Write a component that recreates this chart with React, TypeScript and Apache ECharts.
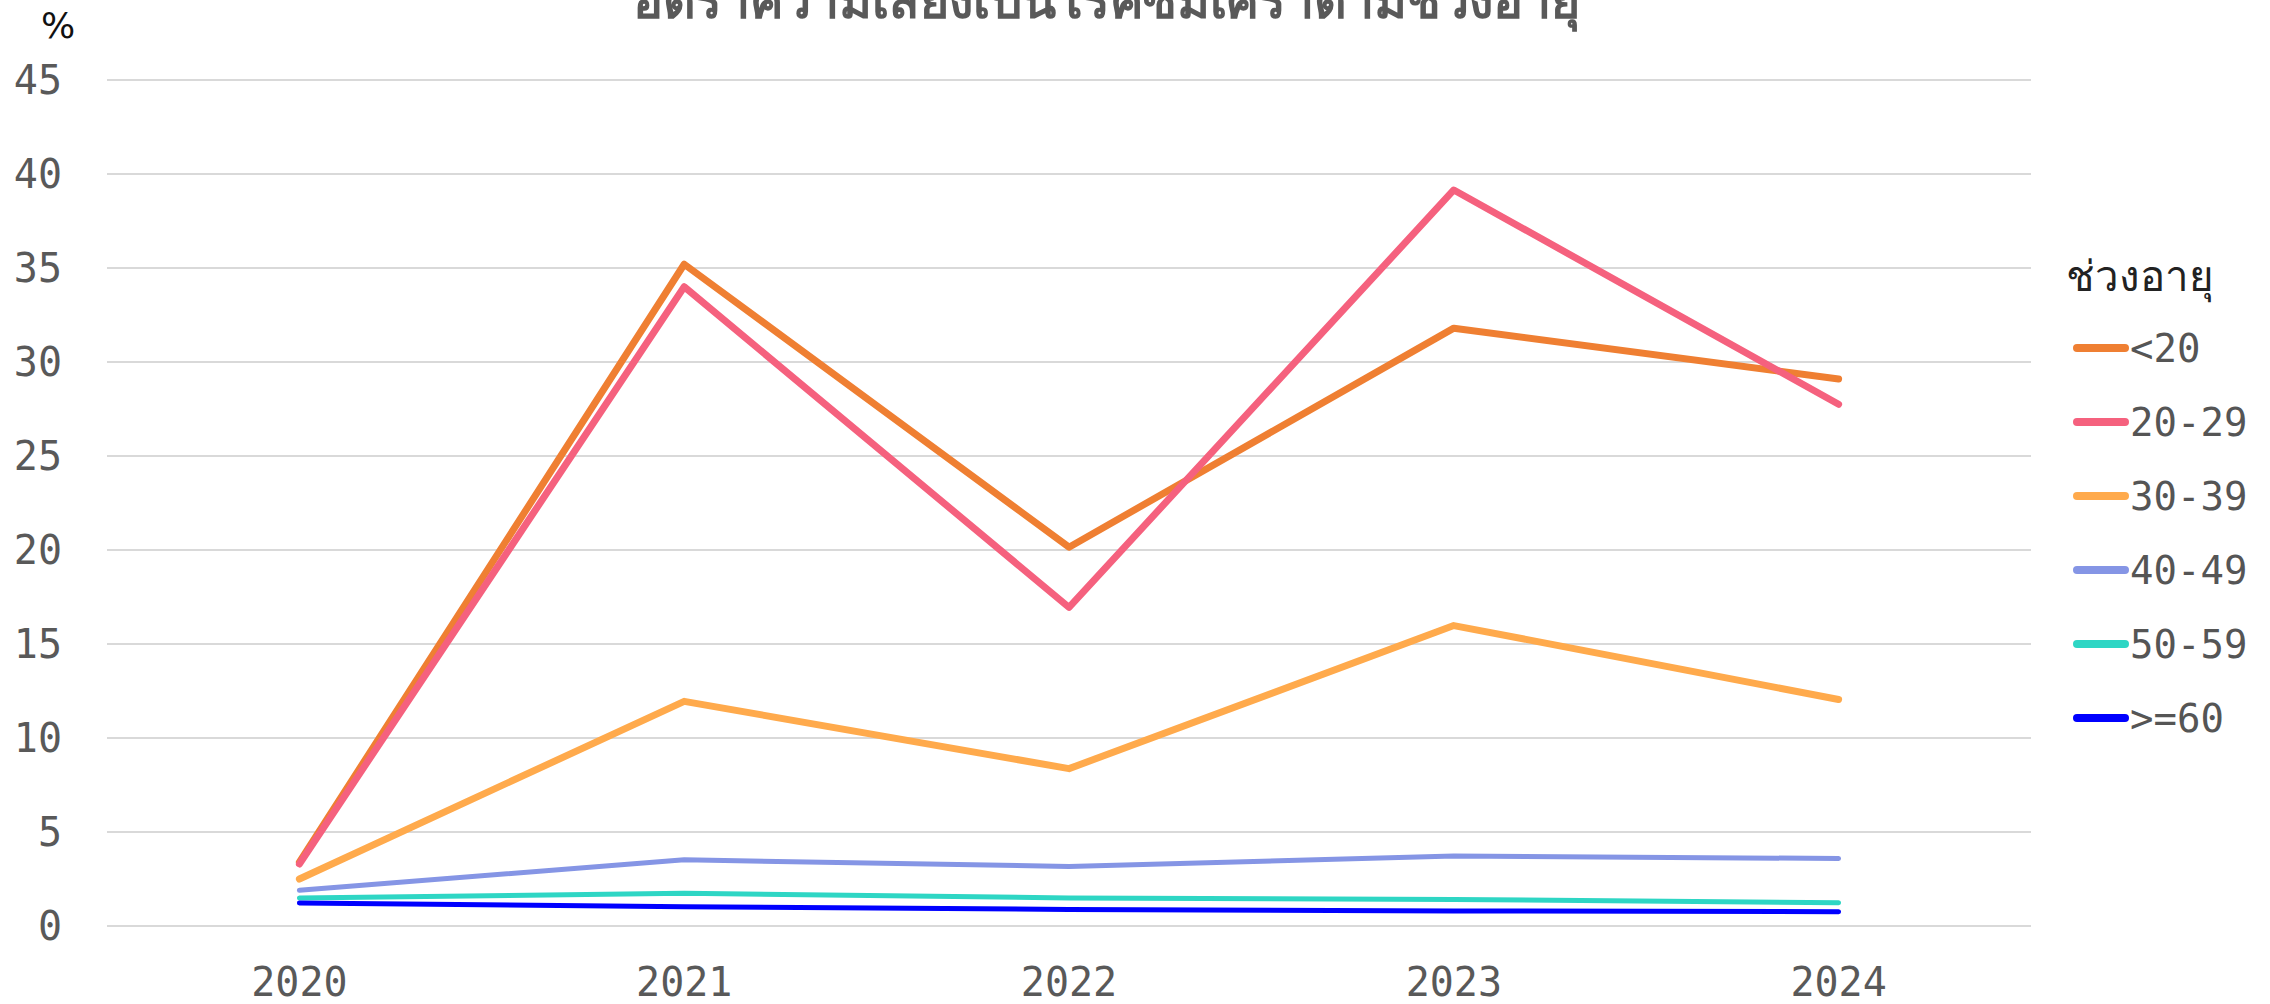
import React, { useEffect, useRef } from "react";
import * as echarts from "echarts";

const years = ["2020", "2021", "2022", "2023", "2024"];
const seriesNames = ["<20", "20-29", "30-39", "40-49", "50-59", ">=60"];
const under20 = [3.4, 35.2, 20.15, 31.8, 29.1];
const age20to29 = [3.3, 34.0, 16.95, 39.15, 27.75];
const age30to39 = [2.5, 11.95, 8.37, 15.98, 12.05];
const age40to49 = [1.9, 3.52, 3.17, 3.72, 3.59];
const age50to59 = [1.49, 1.74, 1.49, 1.41, 1.24];
const age60plus = [1.22, 1.03, 0.88, 0.8, 0.76];
const yTicks = [0, 5, 10, 15, 20, 25, 30, 35, 40, 45];

const seriesData = [under20, age20to29, age30to39, age40to49, age50to59, age60plus];
const colors = ["#EF7F32", "#F5617E", "#FFAA4C", "#8595E5", "#2ED6C4", "#0000FF"];
const widths = [7, 7, 7, 5, 5, 5];

const TITLE = "อัตราความเสี่ยงเป็นโรคซึมเศร้าตามช่วงอายุ";
const LEGEND_TITLE = "ช่วงอายุ";
const NUM_FONT = "'DejaVu Sans Mono', monospace";
const PILL = "path://M4,0 L52,0 A4,4 0 0 1 52,8 L4,8 A4,4 0 0 1 4,0 Z";

export default function App() {
  const ref = useRef<HTMLDivElement>(null);
  useEffect(() => {
    if (!ref.current) return;
    const chart = echarts.init(ref.current, undefined, { renderer: "svg" });
    chart.setOption({
      animation: false,
      backgroundColor: "#ffffff",
      grid: { left: 107, right: 239, top: 80, bottom: 78, containLabel: false },
      graphic: [
        {
          type: "text",
          x: 1106,
          y: -24,
          style: {
            text: TITLE,
            fontSize: 50,
            fontWeight: 900,
            fill: "#595959",
            align: "center",
            verticalAlign: "top",
            fontFamily: "sans-serif",
          },
        },
        {
          type: "text",
          x: 58,
          y: 25,
          style: {
            text: "%",
            fontSize: 36,
            fill: "#111111",
            align: "center",
            verticalAlign: "middle",
            fontFamily: "'DejaVu Sans', sans-serif",
          },
        },
        {
          type: "text",
          x: 2066,
          y: 276,
          style: {
            text: LEGEND_TITLE,
            fontSize: 42,
            fill: "#222222",
            align: "left",
            verticalAlign: "middle",
            fontFamily: "sans-serif",
          },
        },
      ],
      legend: {
        orient: "vertical",
        left: 2068,
        top: 323,
        itemWidth: 56,
        itemHeight: 8,
        itemGap: 34,
        icon: PILL,
        data: seriesNames,
        textStyle: {
          fontSize: 39,
          lineHeight: 40,
          color: "#555555",
          fontFamily: NUM_FONT,
          padding: [0, 0, 0, -4],
        },
      },
      xAxis: {
        type: "category",
        data: years,
        boundaryGap: true,
        axisLine: { show: false },
        axisTick: { show: false },
        axisLabel: {
          fontSize: 40,
          color: "#595959",
          fontFamily: NUM_FONT,
          margin: 36,
        },
      },
      yAxis: {
        type: "value",
        min: 0,
        max: 45,
        interval: 5,
        axisLine: { show: false },
        axisTick: { show: false },
        axisLabel: {
          fontSize: 40,
          color: "#595959",
          fontFamily: NUM_FONT,
          margin: 45,
          formatter: (v: number) => (yTicks.includes(v) ? String(v) : ""),
        },
        splitLine: { lineStyle: { color: "#d9d9d9", width: 2 } },
      },
      series: seriesNames.map((name, i) => ({
        name,
        type: "line",
        data: seriesData[i],
        symbol: "none",
        showSymbol: false,
        color: colors[i],
        itemStyle: { color: colors[i] },
        lineStyle: { color: colors[i], width: widths[i], cap: "round", join: "round" },
      })),
    });
    return () => chart.dispose();
  }, []);
  return (
    <div
      ref={ref}
      style={{ position: "fixed", left: 0, top: 0, width: 2270, height: 1004 }}
    />
  );
}
